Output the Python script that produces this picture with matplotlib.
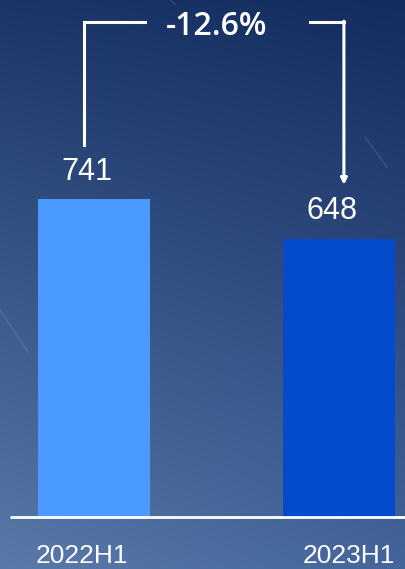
import matplotlib
matplotlib.use('Agg')
import matplotlib.pyplot as plt
import numpy as np
from matplotlib import colors

plt.rcParams['font.family'] = ['Liberation Sans', 'DejaVu Sans']

categories = ['2022H1', '2023H1']
values = [741, 648]
bar_colors = ['#4a9aff', '#034bcc']

change = (values[1] - values[0]) / values[0] * 100
change_label = f'{change:.1f}%'

W, H = 406, 569
fig = plt.figure(figsize=(W / 100, H / 100), dpi=100)

# gradient background, lighter towards the bottom left
bg = fig.add_axes([0, 0, 1, 1])
tl = np.array(colors.to_rgb('#1a3668'))
tr = np.array(colors.to_rgb('#142c5e'))
bl = np.array(colors.to_rgb('#5a7aaa'))
br = np.array(colors.to_rgb('#44659a'))
u = np.linspace(0, 1, W)[None, :, None]
v = np.linspace(0, 1, H)[:, None, None]
img = (1 - v) * ((1 - u) * tl + u * tr) + v * ((1 - u) * bl + u * br)
bg.imshow(img, aspect='auto', extent=(0, W, H, 0))
# faint streaks
for (x0, y0, x1, y1) in [(365, 137, 387, 167), (0, 310, 28, 352), (170, 0, 175, 4)]:
    bg.plot([x0, x1], [y0, y1], color='white', alpha=0.12, lw=1)
bg.set_xlim(0, W)
bg.set_ylim(H, 0)
bg.axis('off')

ax = fig.add_axes([0, 0, 1, 1])
ax.patch.set_alpha(0)
k = 318 / 741  # pixels per unit
ax.set_ylim(-52 / k, 517 / k)
ax.set_xlim(-94 / 245, (406 - 94) / 245)
ax.axis('off')

x = np.arange(len(values))
ax.bar(x, values, width=112 / 245, color=bar_colors, zorder=2)
ax.plot([-84 / 245, 1.3], [0, 0], color='white', lw=2, zorder=3, solid_capstyle='butt')

for xi, val in zip(x, values):
    ax.text(xi - 0.03, val + 64, str(val), color='white', fontsize=22,
            ha='center', va='center')

ax.text(-0.049, -91, categories[0], color='white', fontsize=19, ha='center', va='center')
ax.text(1.041, -91, categories[1], color='white', fontsize=19, ha='center', va='center')

# bracket showing the change between halves
top = 1153
lx, rx = -0.041, 1.020
ax.plot([lx, lx, 0.208], [values[0] + 126, top, top], color='white', lw=2.2,
        solid_joinstyle='miter')
ax.plot([0.882, rx], [top, top], color='white', lw=2.2)
ax.annotate('', xy=(rx, values[1] + 126), xytext=(rx, top + 2.5),
            arrowprops=dict(arrowstyle='-|>', color='white', lw=2.2,
                            mutation_scale=9, shrinkA=0, shrinkB=0))
ax.text(0.502, top - 9, change_label, color='white', fontsize=23,
        family='Open Sans', fontweight='semibold', ha='center', va='center')

fig.savefig('out.png', dpi=100)
